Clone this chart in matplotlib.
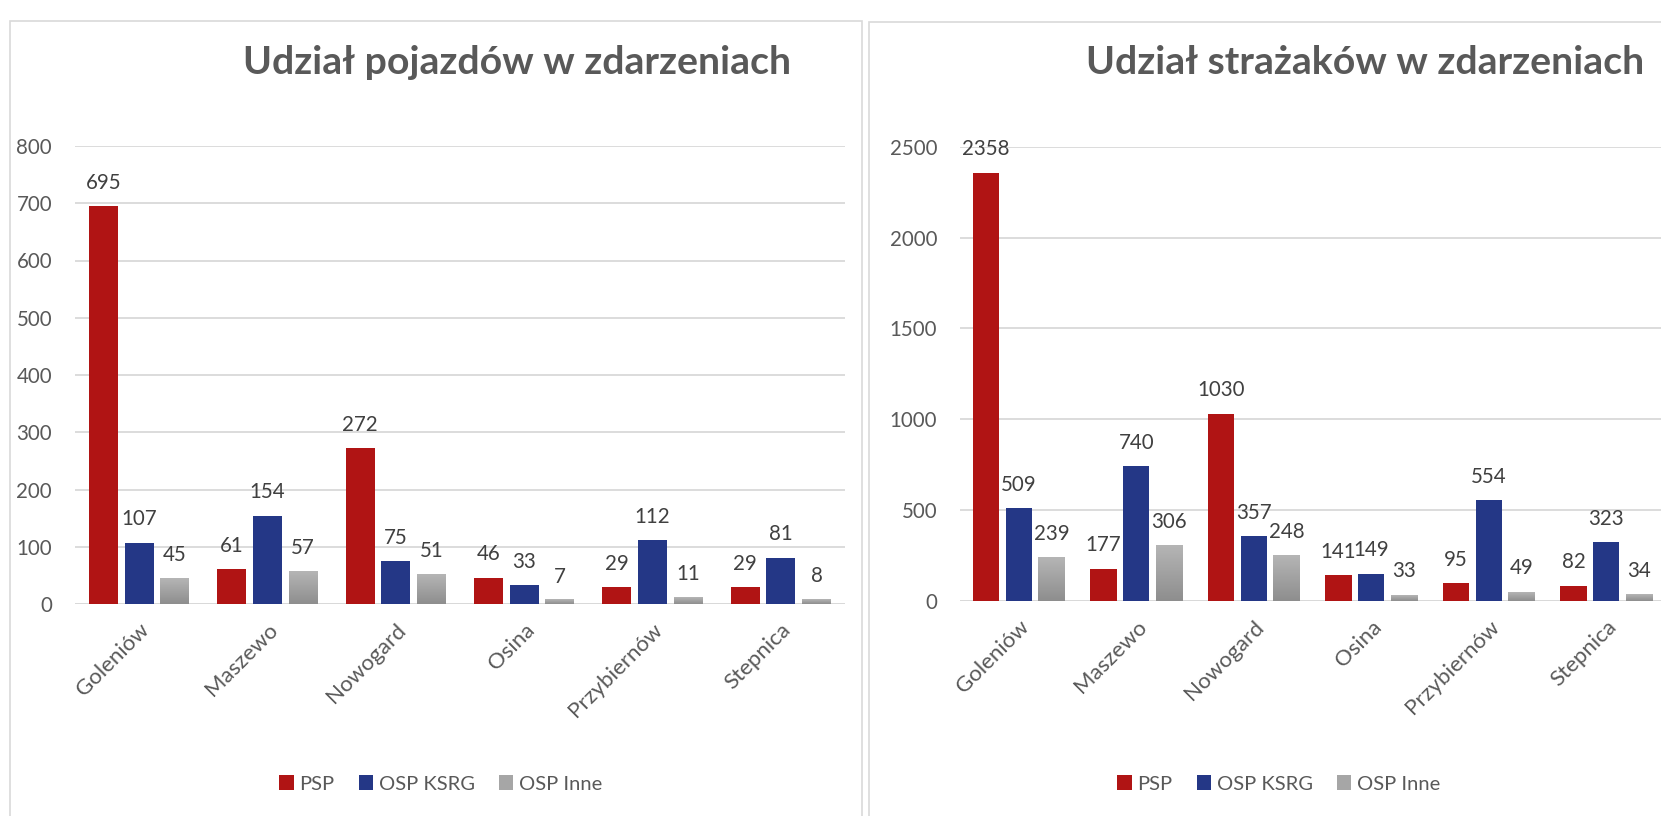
import matplotlib
matplotlib.use('Agg')
import matplotlib.pyplot as plt
import numpy as np
from matplotlib.patches import Rectangle, Patch
from matplotlib.colors import LinearSegmentedColormap

plt.rcParams['font.family'] = ['Lato', 'DejaVu Sans']

# ---------------- data ----------------
categories = ['Goleniów', 'Maszewo', 'Nowogard', 'Osina', 'Przybiernów', 'Stepnica']
series_names = ['PSP', 'OSP KSRG', 'OSP Inne']

vehicles_psp = [695, 61, 272, 46, 29, 29]
vehicles_ksrg = [107, 154, 75, 33, 112, 81]
vehicles_inne = [45, 57, 51, 7, 11, 8]

firefighters_psp = [2358, 177, 1030, 141, 95, 82]
firefighters_ksrg = [509, 740, 357, 149, 554, 323]
firefighters_inne = [239, 306, 248, 33, 49, 34]

title_left = 'Udział pojazdów w zdarzeniach'
title_right = 'Udział strażaków w zdarzeniach'

# ---------------- style ----------------
W, H = 1661, 816
RED = '#B01414'
BLUE = '#243786'
GRAY = '#A6A6A6'
GRID = '#D9D9D9'
TICK_C = '#595959'
LABEL_C = '#404040'
FS = 14.8
FS_CAT = 16

fig = plt.figure(figsize=(W / 100, H / 100), dpi=100)
fig.patch.set_facecolor('white')


def px(x0, y_top, x1, y_bottom):
    return [x0 / W, 1 - y_bottom / H, (x1 - x0) / W, (y_bottom - y_top) / H]


# panel borders
fig.add_artist(Rectangle((10 / W, -0.05), 852 / W, 1 - 21 / H + 0.05,
                         transform=fig.transFigure, fill=False,
                         edgecolor=GRID, linewidth=1.2))
fig.add_artist(Rectangle((869 / W, -0.05), 0.5, 1 - 22 / H + 0.05,
                         transform=fig.transFigure, fill=False,
                         edgecolor=GRID, linewidth=1.2))

gray_cmap = LinearSegmentedColormap.from_list('g', ['#B5B5B5', '#8E8E8E'])


def draw(ax, psp, ksrg, inne, ymax, step):
    x = np.arange(len(categories))
    width = 0.225
    pitch = 0.278
    b1 = ax.bar(x - pitch, psp, width, color=RED, zorder=3)
    b2 = ax.bar(x, ksrg, width, color=BLUE, zorder=3)
    b3 = ax.bar(x + pitch, inne, width, color=GRAY, zorder=3)
    grad = np.linspace(0, 1, 64).reshape(-1, 1)
    for r in b3:
        ax.imshow(grad, extent=(r.get_x(), r.get_x() + r.get_width(), 0, r.get_height()),
                  aspect='auto', cmap=gray_cmap, vmin=0, vmax=1, zorder=3.5,
                  interpolation='bilinear')
    for bars, vals in ((b1, psp), (b2, ksrg), (b3, inne)):
        for r, v in zip(bars, vals):
            ax.annotate(str(v), xy=(r.get_x() + r.get_width() / 2, v),
                        xytext=(0, 12.5), textcoords='offset points',
                        ha='center', va='baseline', fontsize=FS, color=LABEL_C,
                        zorder=5)
    ax.set_xlim(-0.5, len(categories) - 0.5)
    ax.set_ylim(0, ymax)
    ax.set_yticks(np.arange(0, ymax + 1, step))
    ax.set_xticks(x)
    ax.set_xticklabels(categories, rotation=45, ha='right', va='top',
                       rotation_mode='anchor', fontsize=FS_CAT)
    ax.tick_params(axis='both', length=0, colors=TICK_C)
    ax.tick_params(axis='y', pad=16.5, labelsize=FS)
    ax.tick_params(axis='x', pad=11.5)
    for s in ax.spines.values():
        s.set_visible(False)
    ax.yaxis.grid(True, color=GRID, linewidth=1.3, zorder=0)
    ax.set_axisbelow(True)
    ax.axhline(0, color=GRID, linewidth=2.0, zorder=2)
    ax.patch.set_alpha(0)


ax1 = fig.add_axes(px(75, 146, 845, 604))
draw(ax1, vehicles_psp, vehicles_ksrg, vehicles_inne, 800, 100)

ax2 = fig.add_axes(px(960, 147, 1665, 600.7))
draw(ax2, firefighters_psp, firefighters_ksrg, firefighters_inne, 2500, 500)

# titles fitted to reference width
renderer = fig.canvas.get_renderer()
for txt, cx, target in ((title_left, 517, 549), (title_right, 1365, 558)):
    t = fig.text(cx / W, 1 - 74 / H, txt, ha='center', va='baseline',
                 fontsize=28, fontweight='bold', color=TICK_C)
    w = t.get_window_extent(renderer).width
    t.set_fontsize(28 * target / w)

# legends
handles = [Patch(facecolor=RED), Patch(facecolor=BLUE), Patch(facecolor=GRAY)]
for cx in (441, 1279):
    fig.legend(handles, series_names, loc='center', bbox_to_anchor=(cx / W, 32 / H),
               ncol=3, frameon=False, fontsize=14.5, labelcolor=TICK_C,
               handlelength=0.7, handleheight=0.7, handletextpad=0.3,
               columnspacing=1.2)

fig.savefig('out.png', dpi=100, facecolor='white')
